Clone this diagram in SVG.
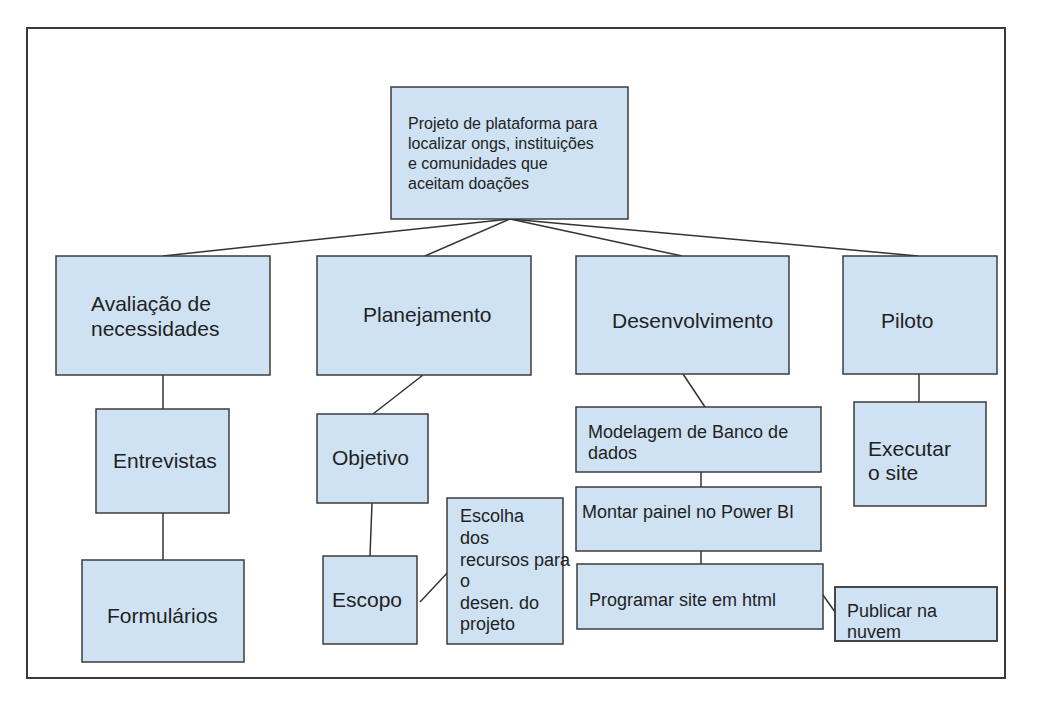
<svg xmlns="http://www.w3.org/2000/svg" width="1040" height="707" viewBox="0 0 1040 707">
<style>
.bx{fill:#cfe2f3;stroke:#3c3c3c;stroke-width:1.5}
.bo{fill:none;stroke:#3c3c3c;stroke-width:1.5}
.t{font-family:"Liberation Sans",Arial,sans-serif;fill:#222}
.s16{font-size:16px}
.s18{font-size:18px}
.s21{font-size:21px}
.c{stroke:#333;stroke-width:1.5;fill:none}
</style>
<rect x="0" y="0" width="1040" height="707" fill="#fff"/>
<rect x="27" y="28" width="978" height="650" fill="none" stroke="#3a3a3a" stroke-width="2"/>
<g id="connectors">
<line class="c" x1="510" y1="219" x2="163" y2="256"/>
<line class="c" x1="510" y1="219" x2="425" y2="256"/>
<line class="c" x1="510" y1="219" x2="682" y2="256"/>
<line class="c" x1="510" y1="219" x2="918" y2="256"/>
<line class="c" x1="163" y1="375" x2="163" y2="409"/>
<line class="c" x1="163" y1="513" x2="163" y2="560"/>
<line class="c" x1="423" y1="375" x2="373" y2="414"/>
<line class="c" x1="372" y1="503" x2="370" y2="556"/>
<line class="c" x1="420" y1="602" x2="450" y2="570"/>
<line class="c" x1="683" y1="374" x2="707" y2="410"/>
<line class="c" x1="701" y1="466" x2="701" y2="491"/>
<line class="c" x1="701" y1="536" x2="701" y2="564"/>
<line class="c" x1="818" y1="588" x2="835" y2="612"/>
<line class="c" x1="919" y1="374" x2="919" y2="402"/>
</g>
<g id="root">
<rect class="bx" x="391" y="87" width="237" height="132"/>
<text class="t s16" x="408" y="129">Projeto de plataforma para</text>
<text class="t s16" x="408" y="149">localizar ongs, instituições</text>
<text class="t s16" x="408" y="169">e comunidades que</text>
<text class="t s16" x="408" y="189">aceitam doações</text>
</g>
<g id="avaliacao">
<rect class="bx" x="56" y="256" width="214" height="119"/>
<text class="t s21" x="91" y="311">Avaliação de</text>
<text class="t s21" x="91" y="336">necessidades</text>
</g>
<g id="planejamento">
<rect class="bx" x="317" y="256" width="214" height="119"/>
<text class="t s21" x="363" y="322">Planejamento</text>
</g>
<g id="desenvolvimento">
<rect class="bx" x="576" y="256" width="213" height="118"/>
<text class="t s21" x="612" y="328">Desenvolvimento</text>
</g>
<g id="piloto">
<rect class="bx" x="843" y="256" width="154" height="118"/>
<text class="t s21" x="881" y="328">Piloto</text>
</g>
<g id="entrevistas">
<rect class="bx" x="96" y="409" width="133" height="104"/>
<text class="t s21" x="113" y="468">Entrevistas</text>
</g>
<g id="formularios">
<rect class="bx" x="82" y="560" width="162" height="102"/>
<text class="t s21" x="107" y="623">Formulários</text>
</g>
<g id="objetivo">
<rect class="bx" x="317" y="414" width="111" height="89"/>
<text class="t s21" x="332" y="465">Objetivo</text>
</g>
<g id="escopo">
<rect class="bx" x="323" y="556" width="94" height="88"/>
<text class="t s21" x="332" y="607">Escopo</text>
</g>
<g id="escolha">
<rect class="bx" x="447" y="498" width="116" height="146"/>
<text class="t s18" x="460" y="522">Escolha</text>
<text class="t s18" x="460" y="544">dos</text>
<text class="t s18" x="460" y="566">recursos para</text>
<text class="t s18" x="460" y="587">o</text>
<text class="t s18" x="460" y="609">desen. do</text>
<text class="t s18" x="460" y="630">projeto</text>
</g>
<g id="modelagem">
<rect class="bx" x="576" y="407" width="245" height="65"/>
<text class="t s18" x="588" y="438">Modelagem de Banco de</text>
<text class="t s18" x="588" y="459">dados</text>
</g>
<g id="montar">
<rect class="bx" x="576" y="487" width="245" height="64"/>
<text class="t s18" x="582" y="518">Montar painel no Power BI</text>
</g>
<g id="programar">
<rect class="bx" x="577" y="564" width="246" height="65"/>
<text class="t s18" x="589" y="606">Programar site em html</text>
</g>
<g id="publicar">
<rect class="bx" x="835" y="587" width="162" height="54"/>
<text class="t s18" x="847" y="617">Publicar na</text>
<text class="t s18" x="847" y="638">nuvem</text>
<rect class="bo" x="835" y="587" width="162" height="54"/>
</g>
<g id="executar">
<rect class="bx" x="854" y="402" width="132" height="104"/>
<text class="t s21" x="868" y="456">Executar</text>
<text class="t s21" x="868" y="480">o site</text>
</g>
</svg>
